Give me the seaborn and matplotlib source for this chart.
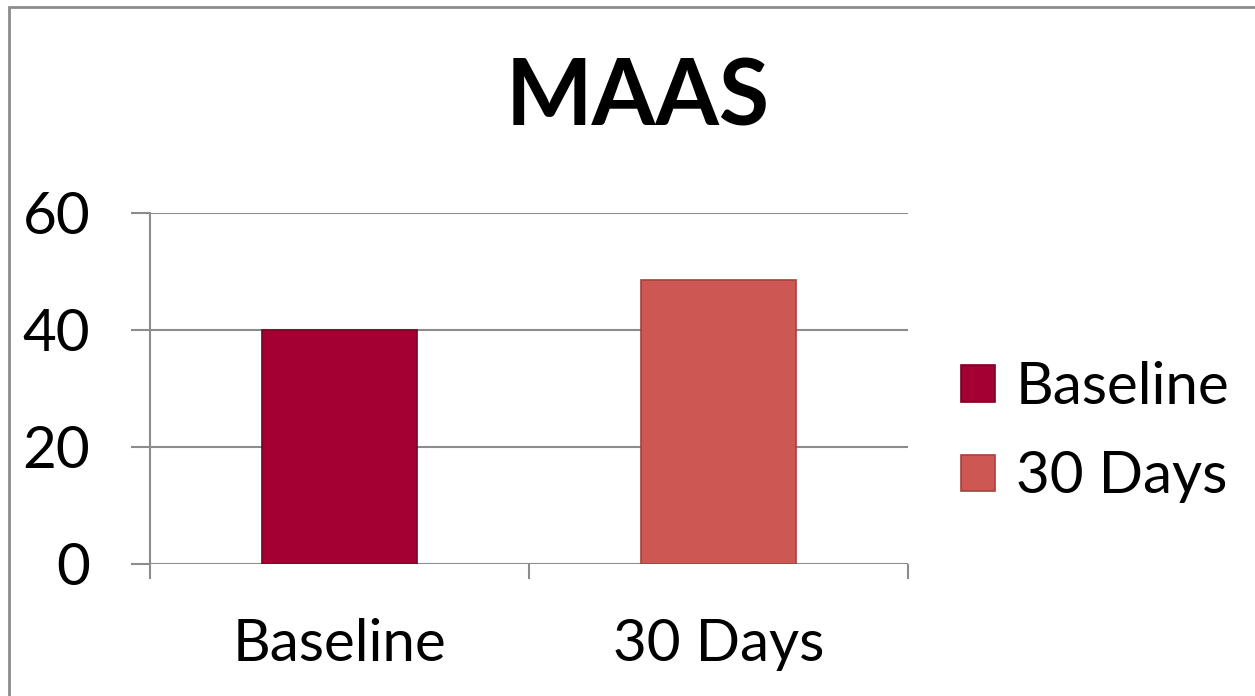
import matplotlib
matplotlib.use("Agg")
import matplotlib.pyplot as plt
import seaborn as sns
import pandas as pd
from matplotlib.patches import Rectangle, Patch

categories = ["Baseline", "30 Days"]
values = [40.0, 48.5]
colors = ["#A50034", "#CD5752"]
edge_colors = ["#7A0026", "#A8403C"]
y_ticks = [0, 20, 40, 60]
title = "MAAS"

sns.set_theme(style="white")
plt.rcParams["font.family"] = ["Lato", "DejaVu Sans"]
plt.rcParams["text.color"] = "black"
plt.rcParams["xtick.color"] = "black"
plt.rcParams["ytick.color"] = "black"

df = pd.DataFrame({"group": categories, "score": values})

fig = plt.figure(figsize=(12.55, 6.96), dpi=100)
ax = fig.add_axes([0.1195, 0.1897, 0.6040, 0.5043])

sns.barplot(data=df, x="group", y="score", hue="group", palette=colors,
            width=0.41, legend=False, ax=ax, saturation=1)
for bar, ec in zip(ax.patches, edge_colors):
    bar.set_edgecolor(ec)
    bar.set_linewidth(1.2)

ax.set_xlim(-0.5, 1.5)
ax.set_ylim(0, 60)
ax.set_yticks(y_ticks)
ax.yaxis.grid(True, color="#8C8C8C", linewidth=1.5)
ax.set_axisbelow(True)
for side in ["top", "right", "bottom"]:
    ax.spines[side].set_visible(False)
ax.spines["left"].set_color("#8C8C8C")
ax.spines["left"].set_linewidth(1.5)
ax.axhline(0, color="#8C8C8C", linewidth=2, zorder=0.5)

ax.tick_params(axis="y", which="major", length=14, width=1.5, color="#8C8C8C",
               labelsize=42, labelcolor="black", pad=29, left=True)
ax.set_xticks([-0.5, 0.5, 1.5], minor=True)
ax.tick_params(axis="x", which="minor", length=11, width=1.5, color="#8C8C8C",
               bottom=True, direction="out")
ax.tick_params(axis="x", which="major", length=0, labelsize=42, labelcolor="black", pad=39)
ax.set_xlabel("")
ax.set_ylabel("")

fig.text(0.508, 0.857, title, ha="center", va="center", fontsize=66,
         fontweight="bold", color="black")

handles = [Patch(facecolor=c, edgecolor=e, linewidth=1.2) for c, e in zip(colors, edge_colors)]
fig.legend(handles, categories, loc="center left", bbox_to_anchor=(0.766, 0.379),
           frameon=False, fontsize=42, handlelength=0.58, handleheight=0.58,
           handletextpad=0.35, labelspacing=0.62, borderaxespad=0, borderpad=0)

fig.add_artist(Rectangle((9 / 1255, -0.1), 1.2, 1 - 7 / 696 + 0.1, transform=fig.transFigure,
                         fill=False, edgecolor="#8C8C8C", linewidth=2))

fig.savefig("out.png", dpi=100)
